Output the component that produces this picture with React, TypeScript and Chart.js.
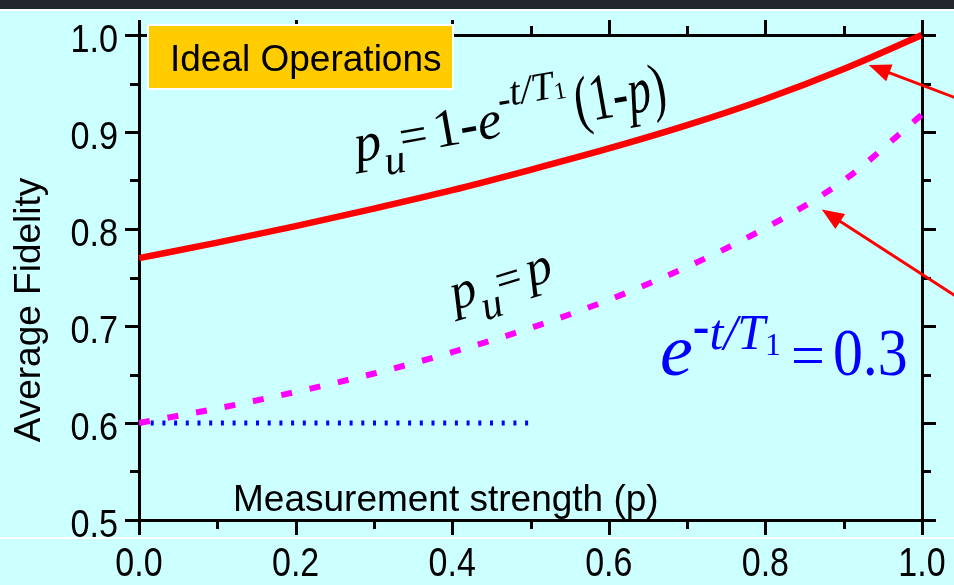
import React, { useEffect, useRef } from "react";
import { Chart, registerables } from "chart.js";

Chart.register(...registerables);

// ---- data ----
const pValues = [0, 0.1, 0.2, 0.3, 0.4, 0.5, 0.6, 0.7, 0.8, 0.9, 1.0];
const idealFidelity = [0.770, 0.786, 0.803, 0.821, 0.840, 0.861, 0.883, 0.907, 0.934, 0.965, 1.0];
const projectiveFidelity = [0.600, 0.615, 0.632, 0.651, 0.673, 0.698, 0.727, 0.761, 0.801, 0.850, 0.918];
const baselineP = [0, 0.5];
const baselineFidelity = [0.6, 0.6];
const xTickValues = [0, 0.2, 0.4, 0.6, 0.8, 1.0];
const xTickLabels = ["0.0", "0.2", "0.4", "0.6", "0.8", "1.0"];
const yTickValues = [0.5, 0.6, 0.7, 0.8, 0.9, 1.0];
const yTickLabels = ["0.5", "0.6", "0.7", "0.8", "0.9", "1.0"];

const SANS = '"Liberation Sans", Arial, sans-serif';
const SERIF = '"Liberation Serif", "Times New Roman", serif';

type Run = { t: string; font: string; dy?: number; gap?: number; sx?: number };

function drawRuns(ctx: CanvasRenderingContext2D, x: number, y: number, angle: number, runs: Run[], color: string) {
  ctx.save();
  ctx.translate(x, y);
  ctx.rotate(angle);
  ctx.fillStyle = color;
  ctx.textBaseline = "alphabetic";
  ctx.textAlign = "left";
  let cx = 0;
  for (const r of runs) {
    cx += r.gap || 0;
    ctx.font = r.font;
    const sx = r.sx ?? 1;
    const w = ctx.measureText(r.t).width * sx;
    ctx.save();
    ctx.translate(cx, r.dy || 0);
    ctx.scale(sx, 1);
    ctx.fillText(r.t, 0, 0);
    ctx.restore();
    cx += w;
  }
  ctx.restore();
}

function arrow(ctx: CanvasRenderingContext2D, x1: number, y1: number, x2: number, y2: number) {
  const ang = Math.atan2(y2 - y1, x2 - x1);
  const hl = 22, hw = 9;
  const bx = x2 - hl * Math.cos(ang), by = y2 - hl * Math.sin(ang);
  ctx.save();
  ctx.strokeStyle = "#ff0000";
  ctx.fillStyle = "#ff0000";
  ctx.lineWidth = 3;
  ctx.beginPath();
  ctx.moveTo(x1, y1);
  ctx.lineTo(bx + 4 * Math.cos(ang), by + 4 * Math.sin(ang));
  ctx.stroke();
  ctx.beginPath();
  ctx.moveTo(x2, y2);
  ctx.lineTo(bx + hw * Math.sin(ang), by - hw * Math.cos(ang));
  ctx.lineTo(bx - hw * Math.sin(ang), by + hw * Math.cos(ang));
  ctx.closePath();
  ctx.fill();
  ctx.restore();
}

const decor = {
  id: "decor",
  beforeDraw(chart: any) {
    const { ctx, width, height } = chart;
    ctx.save();
    ctx.fillStyle = "#ccffff";
    ctx.fillRect(0, 0, width, height);
    ctx.fillStyle = "#22272e";
    ctx.fillRect(0, 0, width, 9);
    ctx.fillStyle = "#ffffff";
    ctx.fillRect(0, 9, width, 2);
    ctx.fillRect(0, 537, width, 2);
    ctx.restore();
  },
  afterDraw(chart: any) {
    const { ctx, chartArea: ca } = chart;
    const xs = chart.scales.x;
    const ys = chart.scales.y;
    ctx.save();
    // ticks on all four sides
    ctx.strokeStyle = "#000";
    ctx.lineWidth = 3;
    ctx.lineCap = "butt";
    const seg = (a: number, b: number, c: number, d: number) => {
      ctx.beginPath();
      ctx.moveTo(a, b);
      ctx.lineTo(c, d);
      ctx.stroke();
    };
    for (let i = 0; i <= 10; i++) {
      const px = Math.round(xs.getPixelForValue(i / 10)) + 0.5;
      const len = i % 2 === 0 ? 15 : 9;
      seg(px, ca.bottom, px, ca.bottom + len);
      seg(px, ca.top, px, ca.top - len);
    }
    for (let i = 0; i <= 10; i++) {
      const py = Math.round(ys.getPixelForValue(0.5 + i * 0.05)) + 0.5;
      const len = i % 2 === 0 ? 14 : 9;
      seg(ca.left - len, py, ca.left, py);
      seg(ca.right, py, ca.right + len, py);
    }

    // tick labels (condensed sans)
    ctx.fillStyle = "#000";
    ctx.textBaseline = "alphabetic";
    ctx.font = `40px ${SANS}`;
    xTickValues.forEach((v, i) => {
      const px = xs.getPixelForValue(v);
      ctx.save();
      ctx.translate(px, 576);
      ctx.scale(0.85, 1);
      ctx.textAlign = "center";
      ctx.fillText(xTickLabels[i], 0, 0);
      ctx.restore();
    });
    ctx.font = `38px ${SANS}`;
    yTickValues.forEach((v, i) => {
      const py = ys.getPixelForValue(v);
      ctx.save();
      ctx.translate(118, py + 17);
      ctx.scale(0.9, 1);
      ctx.textAlign = "right";
      ctx.fillText(yTickLabels[i], 0, 0);
      ctx.restore();
    });

    // axis titles
    ctx.font = `37px ${SANS}`;
    ctx.textAlign = "left";
    ctx.fillText("Measurement strength (p)", 233, 511);
    ctx.save();
    ctx.translate(40, 310);
    ctx.rotate(-Math.PI / 2);
    ctx.textAlign = "center";
    ctx.fillText("Average Fidelity", 0, 0);
    ctx.restore();

    // "Ideal Operations" box
    ctx.fillStyle = "#ffcc00";
    ctx.fillRect(148, 25, 305, 64);
    ctx.strokeStyle = "#ffffff";
    ctx.lineWidth = 2;
    ctx.strokeRect(148, 25, 305, 64);
    ctx.fillStyle = "#000";
    ctx.font = `37px ${SANS}`;
    ctx.textAlign = "left";
    ctx.fillText("Ideal Operations", 170, 71);

    // formula 1
    drawRuns(ctx, 357, 162, (-10 * Math.PI) / 180, [
      { t: "p", font: `italic 54px ${SERIF}` },
      { t: "u", font: `italic 42px ${SERIF}`, dy: 18 },
      { t: "=", font: `50px ${SERIF}`, gap: -2 },
      { t: "1", font: `54px ${SERIF}`, gap: 6 },
      { t: "-", font: `bold 54px ${SERIF}` },
      { t: "e", font: `italic 54px ${SERIF}` },
      { t: "-", font: `bold 38px ${SERIF}`, dy: -24 },
      { t: "t/T", font: `italic 40px ${SERIF}`, dy: -29 },
      { t: "1", font: `24px ${SERIF}`, dy: -27 },
      { t: "(1-", font: `66px ${SERIF}`, gap: 6, sx: 0.7 },
      { t: "p", font: `italic 66px ${SERIF}`, sx: 0.7 },
      { t: ")", font: `66px ${SERIF}`, sx: 0.7 },
    ], "#000");

    // formula 2
    drawRuns(ctx, 455, 310, (-17 * Math.PI) / 180, [
      { t: "p", font: `italic 52px ${SERIF}` },
      { t: "u", font: `italic 42px ${SERIF}`, dy: 19 },
      { t: "=", font: `46px ${SERIF}` },
      { t: "p", font: `italic 52px ${SERIF}`, gap: 6 },
    ], "#000");

    // formula 3 (blue)
    drawRuns(ctx, 660, 375, 0, [
      { t: "e", font: `italic 74px ${SERIF}` },
      { t: "-", font: `bold 50px ${SERIF}`, dy: -32 },
      { t: "t/T", font: `italic 50px ${SERIF}`, dy: -26 },
      { t: "1", font: `32px ${SERIF}`, dy: -20 },
      { t: "=", font: `60px ${SERIF}`, gap: 10 },
      { t: "0.3", font: `68px ${SERIF}`, gap: 8, sx: 0.88 },
    ], "#0000ff");

    // arrows (positioned in data space)
    arrow(ctx, xs.getPixelForValue(1.06), ys.getPixelForValue(0.930), xs.getPixelForValue(0.932), ys.getPixelForValue(0.969));
    arrow(ctx, xs.getPixelForValue(1.06), ys.getPixelForValue(0.722), xs.getPixelForValue(0.872), ys.getPixelForValue(0.820));
    ctx.restore();
  },
};

export default function App() {
  const ref = useRef<HTMLCanvasElement | null>(null);
  useEffect(() => {
    if (!ref.current) return;
    const border = { display: true, color: "#000", width: 3 };
    const grid = { display: true, drawOnChartArea: false, drawTicks: false };
    const chart = new Chart(ref.current, {
      type: "line",
      data: {
        datasets: [
          {
            label: "ideal",
            data: pValues.map((p, i) => ({ x: p, y: idealFidelity[i] })),
            borderColor: "#ff0000",
            borderWidth: 6.5,
            pointRadius: 0,
            cubicInterpolationMode: "monotone",
            clip: false as any,
          },
          {
            label: "projective",
            data: pValues.map((p, i) => ({ x: p, y: projectiveFidelity[i] })),
            borderColor: "#ff00ff",
            borderWidth: 6,
            borderDash: [11, 18],
            borderCapStyle: "butt",
            pointRadius: 0,
            cubicInterpolationMode: "monotone",
            clip: false as any,
          },
          {
            label: "baseline",
            data: baselineP.map((p, i) => ({ x: p, y: baselineFidelity[i] })),
            borderColor: "#0000ff",
            borderWidth: 5,
            borderDash: [3, 8.7],
            borderCapStyle: "butt",
            pointRadius: 0,
            clip: false as any,
          },
        ],
      },
      options: {
        responsive: false,
        animation: false,
        layout: { padding: 0 },
        plugins: { legend: { display: false }, tooltip: { enabled: false }, title: { display: false } },
        scales: {
          x: {
            type: "linear", position: "bottom", min: 0, max: 1,
            grid, border,
            ticks: { display: false, stepSize: 0.1 },
            afterFit: (s: any) => { s.height = 65; },
          },
          x2: {
            type: "linear", position: "top", min: 0, max: 1,
            grid, border,
            ticks: { display: false },
            afterFit: (s: any) => { s.height = 35; },
          },
          y: {
            type: "linear", position: "left", min: 0.5, max: 1.0,
            grid, border,
            ticks: { display: false, stepSize: 0.05 },
            afterFit: (s: any) => { s.width = 139; },
          },
          y2: {
            type: "linear", position: "right", min: 0.5, max: 1.0,
            grid, border,
            ticks: { display: false },
            afterFit: (s: any) => { s.width = 32; },
          },
        },
      } as any,
      plugins: [decor],
    });
    return () => chart.destroy();
  }, []);
  return (
    <div style={{ position: "fixed", left: 0, top: 0, width: 954, height: 585 }}>
      <canvas ref={ref} width={954} height={585} style={{ display: "block", width: 954, height: 585 }} />
    </div>
  );
}
